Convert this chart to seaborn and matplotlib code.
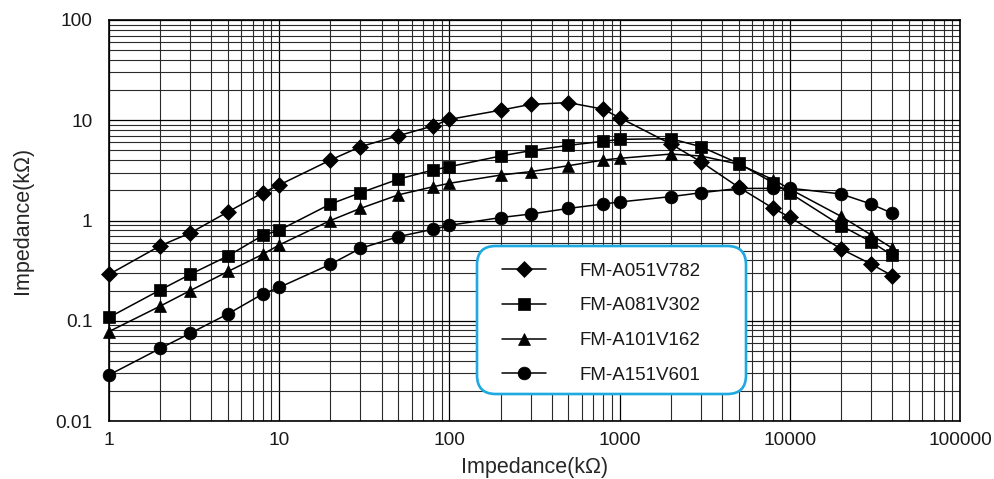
import matplotlib
matplotlib.use("Agg")
import matplotlib.pyplot as plt
import numpy as np
import pandas as pd
import seaborn as sns
from matplotlib.patches import FancyBboxPatch
from matplotlib.ticker import LogLocator, FixedLocator, FixedFormatter, NullFormatter

# ---- data ----
frequency = [1, 2, 3, 5, 8, 10, 20, 30, 50, 80, 100, 200, 300, 500, 800, 1000,
             2000, 3000, 5000, 8000, 10000, 20000, 30000, 40000]
fm_a051v782 = [0.29, 0.56, 0.75, 1.22, 1.89, 2.26, 4.01, 5.45, 7.0, 8.77, 10.2, 12.6,
               14.4, 15.0, 12.9, 10.6, 5.8, 3.86, 2.15, 1.32, 1.08, 0.52, 0.368, 0.281]
fm_a081v302 = [0.108, 0.203, 0.29, 0.443, 0.71, 0.80, 1.46, 1.89, 2.58, 3.19, 3.44, 4.40,
               4.97, 5.62, 6.16, 6.45, 6.55, 5.45, 3.72, 2.37, 1.88, 0.89, 0.615, 0.45]
fm_a101v162 = [0.078, 0.14, 0.20, 0.31, 0.46, 0.57, 1.0, 1.32, 1.8, 2.17, 2.35, 2.84,
               3.07, 3.52, 4.01, 4.17, 4.6, 4.4, 3.65, 2.55, 2.06, 1.1, 0.72, 0.53]
fm_a151v601 = [0.0288, 0.053, 0.075, 0.117, 0.185, 0.215, 0.366, 0.527, 0.69, 0.817, 0.895,
               1.07, 1.16, 1.32, 1.46, 1.53, 1.73, 1.89, 2.09, 2.09, 2.1, 1.84, 1.46, 1.18]
series_names = ["FM-A051V782", "FM-A081V302", "FM-A101V162", "FM-A151V601"]
series_values = [fm_a051v782, fm_a081v302, fm_a101v162, fm_a151v601]
series_markers = ["D", "s", "^", "o"]
series_msize = [8.0, 8.8, 8.6, 9.2]

x_ticks = [1, 10, 100, 1000, 10000, 100000]
x_ticklabels = ["1", "10", "100", "1000", "10000", "100000"]
y_ticks = [0.01, 0.1, 1, 10, 100]
y_ticklabels = ["0.01", "0.1", "1", "10", "100"]
x_label = "Impedance(kΩ)"
y_label = "Impedance(kΩ)"

df = pd.DataFrame({
    "freq": np.tile(frequency, len(series_names)),
    "imp": np.concatenate(series_values),
    "series": np.repeat(series_names, len(frequency)),
})

# ---- style ----
sns.set_style("white")
plt.rcParams["font.family"] = ["Liberation Sans", "DejaVu Sans"]
plt.rcParams["text.color"] = "#1a1a1a"
plt.rcParams["xtick.color"] = "#1a1a1a"
plt.rcParams["ytick.color"] = "#1a1a1a"

W, H = 994, 479
fig = plt.figure(figsize=(W / 100, H / 100), dpi=100)
ax_l, ax_r, ax_t, ax_b = 109, 960, 20, 421
ax = fig.add_axes([ax_l / W, 1 - ax_b / H, (ax_r - ax_l) / W, (ax_b - ax_t) / H])

for name, mk, ms in zip(series_names, series_markers, series_msize):
    sub = df[df["series"] == name]
    sns.lineplot(data=sub, x="freq", y="imp", ax=ax, color="black", marker=mk,
                 markersize=ms, markeredgecolor="black", markeredgewidth=0.5,
                 linewidth=1.1, label=name, zorder=3, clip_on=False)

ax.set_xscale("log")
ax.set_yscale("log")
ax.set_xlim(1, 100000)
ax.set_ylim(0.01, 100)

ax.xaxis.set_major_locator(FixedLocator(x_ticks))
ax.xaxis.set_major_formatter(FixedFormatter(x_ticklabels))
ax.yaxis.set_major_locator(FixedLocator(y_ticks))
ax.yaxis.set_major_formatter(FixedFormatter(y_ticklabels))
ax.xaxis.set_minor_locator(LogLocator(base=10, subs=np.arange(2, 10), numticks=20))
ax.yaxis.set_minor_locator(LogLocator(base=10, subs=np.arange(2, 10), numticks=20))
ax.xaxis.set_minor_formatter(NullFormatter())
ax.yaxis.set_minor_formatter(NullFormatter())

ax.grid(True, which="major", color="black", linewidth=0.9)
ax.grid(True, which="minor", color="#2a2a2a", linewidth=0.8)
ax.set_axisbelow(True)

ax.tick_params(axis="both", which="both", length=0, labelsize=13.8)
ax.tick_params(axis="x", pad=8)
ax.tick_params(axis="y", pad=12)

for sp in ax.spines.values():
    sp.set_color("black")
    sp.set_linewidth(1.2)

ax.set_xlabel(x_label, fontsize=15.5, labelpad=6)
ax.set_ylabel(y_label, fontsize=15.5, labelpad=16)

# legend frame drawn as a separate rounded box
def ax_x(px):
    return (px - ax_l) / (ax_r - ax_l)

def ax_y(py):
    return (ax_b - py) / (ax_b - ax_t)

box_l, box_r, box_t, box_b = 477, 746, 246, 394
frame = FancyBboxPatch((ax_x(box_l), ax_y(box_b)), ax_x(box_r) - ax_x(box_l),
                       ax_y(box_t) - ax_y(box_b), transform=ax.transAxes,
                       boxstyle="round,pad=0,rounding_size=0.022",
                       facecolor="white", edgecolor="#1fa9e1", linewidth=1.9,
                       zorder=4, mutation_aspect=(851 / 401))
ax.add_patch(frame)

leg = ax.legend(loc="center left", bbox_to_anchor=(ax_x(501.5), ax_y(323.3)),
                frameon=False, fontsize=13.5, handlelength=2.35,
                handletextpad=1.8, labelspacing=0.94, borderpad=0,
                borderaxespad=0)
leg.set_zorder(5)

fig.savefig("out.png", dpi=100)
